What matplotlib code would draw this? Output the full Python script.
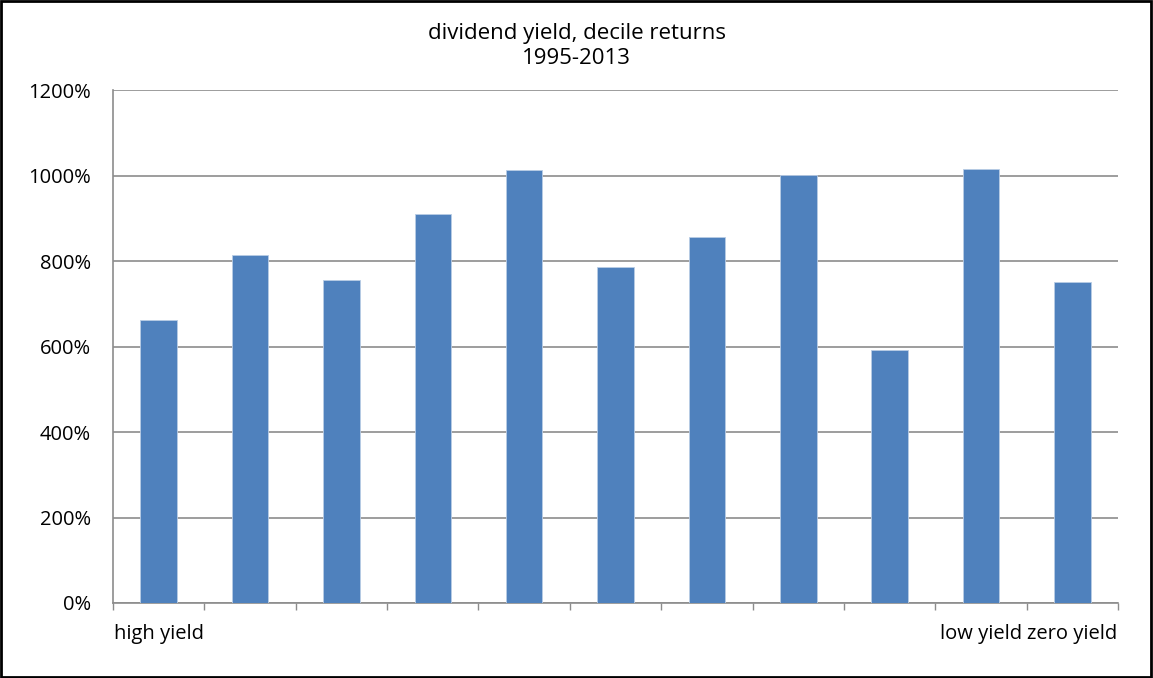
import matplotlib
matplotlib.use('Agg')
import matplotlib.pyplot as plt
from matplotlib.ticker import FuncFormatter, FixedLocator
import numpy as np

# data
deciles = ['high yield', '', '', '', '', '', '', '', '', 'low yield', 'zero yield']
returns = [663, 814, 755, 910, 1013, 785, 856, 1002, 591, 1016, 752]

plt.rcParams['font.family'] = ['Open Sans', 'DejaVu Sans']

fig = plt.figure(figsize=(11.53, 6.78), dpi=100)
ax = fig.add_axes([113 / 1153, 1 - 603 / 678, 1005 / 1153, 513 / 678])

x = np.arange(len(returns))
ax.bar(x, returns, width=0.4, color='#4F81BD', edgecolor='#B9CDE5', linewidth=0.6, zorder=3)

ax.set_xlim(-0.5, len(returns) - 0.5)
ax.set_ylim(0, 1200)
ax.set_yticks(range(0, 1201, 200))
ax.yaxis.set_major_formatter(FuncFormatter(lambda v, p: f'{int(v)}%'))
ax.grid(axis='y', color='#8C8C8C', linewidth=1.2, zorder=0)

# category labels, boundary ticks
ax.set_xticks(x)
ax.set_xticklabels(deciles, fontsize=14.5)
ax.tick_params(axis='x', length=0, pad=15)
ax.xaxis.set_minor_locator(FixedLocator(np.arange(-0.5, len(returns), 1)))
ax.tick_params(axis='x', which='minor', length=5, color='#8C8C8C', width=1)
ax.tick_params(axis='y', length=0, labelsize=14.5, pad=16)

for s in ['top', 'right']:
    ax.spines[s].set_visible(False)
for s in ['left', 'bottom']:
    ax.spines[s].set_color('#8C8C8C')
    ax.spines[s].set_linewidth(1.2)

fig.text(0.5, 1 - 33 / 678, 'dividend yield, decile returns', ha='center', va='center', fontsize=16)
fig.text(0.5, 1 - 58 / 678, '1995-2013', ha='center', va='center', fontsize=16)

# outer chart border
fig.patches.append(plt.Rectangle((0.001, 0.002), 0.997, 0.996, transform=fig.transFigure,
                                 fill=False, edgecolor='black', linewidth=2))

fig.savefig('out.png', dpi=100)
